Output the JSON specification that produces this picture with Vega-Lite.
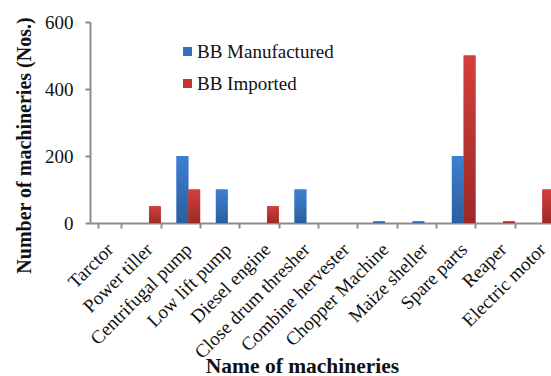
{
  "$schema": "https://vega.github.io/schema/vega-lite/v6.json",
  "autosize": {"type": "none"},
  "padding": {"left": 90, "top": 22, "right": 0, "bottom": 153},
  "width": 472,
  "height": 201,
  "background": "white",
  "config": {
    "font": "Liberation Serif",
    "view": {"stroke": null},
    "axis": {"grid": false, "domainColor": "#8c8c8c", "domainWidth": 2, "tickColor": "#8c8c8c", "tickWidth": 2, "tickSize": 5, "labelColor": "#111", "titleColor": "#111", "labelFont": "Liberation Serif", "titleFont": "Liberation Serif"},
    "legend": {"labelFont": "Liberation Serif"}
  },
  "data": {
    "values": [
      {"machine": "Tarctor", "type": "BB Manufactured", "value": 0},
      {"machine": "Tarctor", "type": "BB Imported", "value": 0},
      {"machine": "Power tiller", "type": "BB Manufactured", "value": 0},
      {"machine": "Power tiller", "type": "BB Imported", "value": 50},
      {"machine": "Centrifugal pump", "type": "BB Manufactured", "value": 200},
      {"machine": "Centrifugal pump", "type": "BB Imported", "value": 100},
      {"machine": "Low lift pump", "type": "BB Manufactured", "value": 100},
      {"machine": "Low lift pump", "type": "BB Imported", "value": 0},
      {"machine": "Diesel engine", "type": "BB Manufactured", "value": 0},
      {"machine": "Diesel engine", "type": "BB Imported", "value": 50},
      {"machine": "Close drum thresher", "type": "BB Manufactured", "value": 100},
      {"machine": "Close drum thresher", "type": "BB Imported", "value": 0},
      {"machine": "Combine hervester", "type": "BB Manufactured", "value": 0},
      {"machine": "Combine hervester", "type": "BB Imported", "value": 0},
      {"machine": "Chopper Machine", "type": "BB Manufactured", "value": 5},
      {"machine": "Chopper Machine", "type": "BB Imported", "value": 0},
      {"machine": "Maize sheller", "type": "BB Manufactured", "value": 5},
      {"machine": "Maize sheller", "type": "BB Imported", "value": 0},
      {"machine": "Spare parts", "type": "BB Manufactured", "value": 200},
      {"machine": "Spare parts", "type": "BB Imported", "value": 500},
      {"machine": "Reaper", "type": "BB Manufactured", "value": 0},
      {"machine": "Reaper", "type": "BB Imported", "value": 5},
      {"machine": "Electric motor", "type": "BB Manufactured", "value": 0},
      {"machine": "Electric motor", "type": "BB Imported", "value": 100}
    ]
  },
  "encoding": {
    "x": {
      "field": "machine",
      "type": "nominal",
      "sort": null,
      "scale": {"paddingInner": 0.4, "paddingOuter": 0.2},
      "axis": {
        "title": "Name of machineries",
        "titleFontSize": 21.5,
        "titleFontWeight": "bold",
        "titleX": 212,
        "titleY": 149,
        "titleBaseline": "alphabetic",
        "titleAnchor": null,
        "tickBand": "extent",
        "labelAngle": -45,
        "labelAlign": "right",
        "labelBaseline": "middle",
        "labelFontSize": 19,
        "labelFont": "Liberation Serif",
        "labelPadding": 18
      }
    },
    "xOffset": {"field": "type", "type": "nominal", "sort": ["BB Manufactured", "BB Imported"], "scale": {"domain": ["BB Manufactured", "BB Imported"]}},
    "y": {
      "field": "value",
      "type": "quantitative",
      "scale": {"domain": [0, 600], "nice": false},
      "axis": {
        "title": "Number of machineries (Nos.)",
        "titleFontSize": 20,
        "titleFontWeight": "bold",
        "titleX": -66,
        "titleY": 123,
        "titleBaseline": "middle",
        "titleAnchor": null,
        "values": [0, 200, 400, 600],
        "labelFontSize": 19,
        "labelFont": "Liberation Serif",
        "labelPadding": 12
      }
    }
  },
  "layer": [
    {
      "mark": {"type": "bar"},
      "encoding": {
        "color": {
          "field": "type",
          "type": "nominal",
          "scale": {"domain": ["BB Manufactured", "BB Imported"], "range": ["#3470bd", "#bf3532"]},
          "legend": {
            "title": null,
            "orient": "none",
            "legendX": 88,
            "legendY": 20,
            "symbolType": "square",
            "symbolSize": 81,
            "symbolStrokeWidth": 0,
            "labelFontSize": 19,
            "labelFont": "Liberation Serif",
            "labelColor": "#111",
            "labelOffset": 0,
            "rowPadding": 12
          }
        }
      }
    },
    {
      "transform": [{"filter": "datum.type === 'BB Manufactured'"}],
      "mark": {"type": "bar", "color": {"gradient": "linear", "x1": 0, "y1": 0, "x2": 0, "y2": 1, "stops": [{"offset": 0, "color": "#3d80d2"}, {"offset": 1, "color": "#2b5e9e"}]}}
    },
    {
      "transform": [{"filter": "datum.type === 'BB Imported'"}],
      "mark": {"type": "bar", "color": {"gradient": "linear", "x1": 0, "y1": 0, "x2": 0, "y2": 1, "stops": [{"offset": 0, "color": "#d33f3c"}, {"offset": 1, "color": "#9c2927"}]}}
    }
  ]
}
